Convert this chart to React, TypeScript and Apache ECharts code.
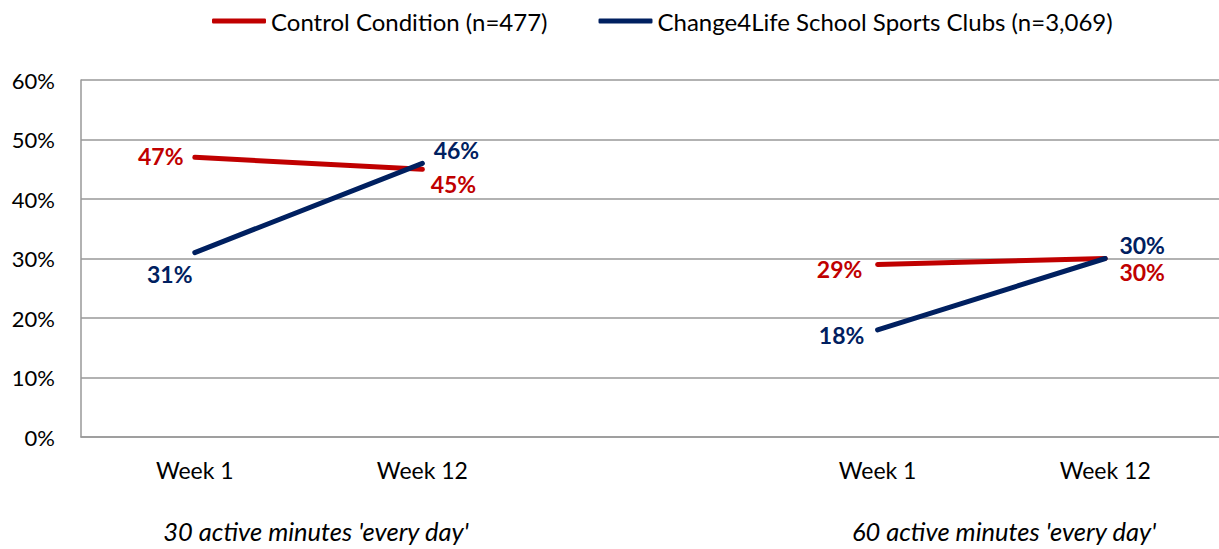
import React, { useEffect, useRef } from "react";
import * as echarts from "echarts";

const categories = ["Week 1", "Week 12", "", "Week 1", "Week 12"];
const controlValues: (number | null)[] = [47, 45, null, 29, 30];
const clubValues: (number | null)[] = [31, 46, null, 18, 30];
const seriesNames = ["Control Condition (n=477)", "Change4Life School Sports Clubs (n=3,069)"];
const groupLabels = ["30 active minutes 'every day'", "60 active minutes 'every day'"];
const yTicks = { min: 0, max: 60, interval: 10 };

// label offsets (styling only)
const controlOffsets: number[][] = [[-34, -1], [31, 15], [0, 0], [-38, 5], [37, 13]];
const clubOffsets: number[][] = [[-25, 21], [34, -13], [0, 0], [-36, 5], [37, -14]];

const RED = "#C00000";
const NAVY = "#002060";
const FONT = "Lato";

function buildData(values: (number | null)[], offsets: number[][]) {
  return values.map((v, i) =>
    v == null ? null : { value: v, label: { offset: offsets[i] } }
  );
}

export default function App() {
  const ref = useRef<HTMLDivElement>(null);
  useEffect(() => {
    if (!ref.current) return;
    const chart = echarts.init(ref.current, null, { renderer: "svg" });
    const labelBase = {
      show: true,
      position: "inside",
      formatter: "{c}%",
      fontFamily: FONT,
      fontWeight: "bold",
      fontSize: 23,
    };
    const groupText = (text: string, x: number) => ({
      type: "text",
      x,
      y: 531,
      style: {
        text,
        fontFamily: FONT,
        fontStyle: "italic",
        fontSize: 25.5,
        fill: "#000",
        textAlign: "center",
        textVerticalAlign: "middle",
      },
    });
    chart.setOption({
      animation: false,
      backgroundColor: "#ffffff",
      textStyle: { fontFamily: FONT },
      legend: {
        top: 4,
        left: 207,
        itemWidth: 54,
        itemHeight: 5,
        itemGap: 51,
        icon: "roundRect",
        textStyle: { fontFamily: FONT, fontSize: 24, color: "#000" },
        data: seriesNames,
      },
      grid: { left: 81, top: 80, bottom: 112, width: 1146, containLabel: false },
      xAxis: {
        type: "category",
        data: categories,
        boundaryGap: true,
        axisLine: { show: true, lineStyle: { color: "#999", width: 1.5 } },
        axisTick: { show: false },
        axisLabel: { color: "#000", fontSize: 23, fontFamily: FONT, margin: 21 },
        splitLine: { show: false },
      },
      yAxis: {
        type: "value",
        min: yTicks.min,
        max: yTicks.max,
        interval: yTicks.interval,
        axisLine: { show: true, lineStyle: { color: "#999", width: 1.5 } },
        axisTick: { show: false },
        axisLabel: {
          color: "#000",
          fontSize: 22,
          fontFamily: FONT,
          margin: 26,
          formatter: "{value}%",
        },
        splitLine: { show: true, lineStyle: { color: "#999", width: 1.5 } },
      },
      graphic: [groupText(groupLabels[0], 316), groupText(groupLabels[1], 1004)],
      series: [
        {
          name: seriesNames[0],
          type: "line",
          data: buildData(controlValues, controlOffsets),
          connectNulls: false,
          symbol: "circle",
          symbolSize: 2,
          color: RED,
          itemStyle: { color: RED },
          lineStyle: { color: RED, width: 5, cap: "round" },
          label: { ...labelBase, color: RED },
          z: 2,
        },
        {
          name: seriesNames[1],
          type: "line",
          data: buildData(clubValues, clubOffsets),
          connectNulls: false,
          symbol: "circle",
          symbolSize: 2,
          color: NAVY,
          itemStyle: { color: NAVY },
          lineStyle: { color: NAVY, width: 5, cap: "round" },
          label: { ...labelBase, color: NAVY },
          z: 3,
        },
      ],
    });
    return () => chart.dispose();
  }, []);
  return (
    <div
      ref={ref}
      style={{ position: "absolute", left: 0, top: 0, width: 1219, height: 549 }}
    />
  );
}
